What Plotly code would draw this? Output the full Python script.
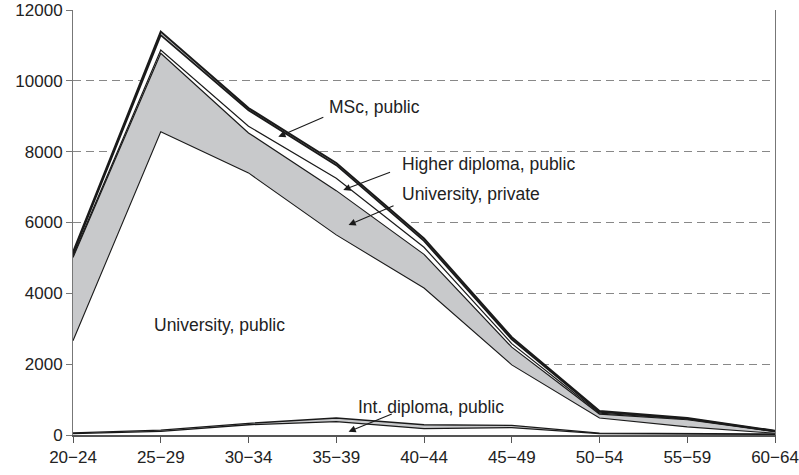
import plotly.graph_objects as go

age_groups = ["20\u221224", "25\u221229", "30\u221234", "35\u221239", "40\u221244",
              "45\u221249", "50\u221254", "55\u221259", "60\u221264"]

int_dip_public = [40, 100, 290, 380, 180, 210, 40, 30, 20]
int_dip_private = [20, 40, 40, 100, 110, 60, 15, 10, 10]
univ_public = [2600, 8420, 7070, 5170, 3860, 1710, 425, 190, 20]
univ_private = [2350, 2220, 1130, 1250, 950, 500, 110, 200, 45]
higher_dip_public = [40, 90, 190, 350, 200, 100, 30, 15, 5]
msc_public = [60, 420, 450, 370, 180, 120, 30, 15, 10]
msc_private = [50, 100, 60, 60, 70, 60, 30, 20, 10]

y_ticks = [0, 2000, 4000, 6000, 8000, 10000, 12000]
y_tick_labels = ["0", "2000", "4000", "6000", "8000", "10000", "12000"]

WHITE = "#ffffff"
GREY = "#c8c9cb"
LINE = "#1a1a1a"

layers = [
    ("Int. diploma, public", int_dip_public, WHITE, 1.3),
    ("Int. diploma, private", int_dip_private, GREY, 1.3),
    ("University, public", univ_public, WHITE, 1.1),
    ("University, private", univ_private, GREY, 1.2),
    ("Higher diploma, public", higher_dip_public, WHITE, 1.2),
    ("MSc, public", msc_public, WHITE, 1.8),
    ("MSc, private", msc_private, GREY, 2.0),
]

fig = go.Figure()
for name, vals, fc, lw in layers:
    fig.add_trace(go.Scatter(
        x=age_groups, y=vals, name=name, mode="lines",
        stackgroup="one", fillcolor=fc,
        line=dict(color=LINE, width=lw),
    ))

FONT = "Liberation Sans, Arial, sans-serif"

labels = [
    ("MSc, public", 2.895, 9260),
    ("Higher diploma, public", 3.73, 7650),
    ("University, private", 3.73, 6800),
    ("University, public", 0.90, 3105),
    ("Int. diploma, public", 3.225, 790),
]
for txt, x, y in labels:
    fig.add_annotation(x=x, y=y, xref="x", yref="y", text=txt, showarrow=False,
                       xanchor="left", yanchor="middle",
                       font=dict(family=FONT, size=17.5, color="#222222"))

arrows = [
    (2.34, 8420, 2.87, 8990),
    (3.08, 6917, 3.63, 7434),
    (3.14, 5929, 3.67, 6493),
    (3.14, 93, 3.65, 613),
]
for x, y, ax, ay in arrows:
    fig.add_annotation(x=x, y=y, xref="x", yref="y", ax=ax, ay=ay,
                       axref="x", ayref="y", text="", showarrow=True,
                       arrowhead=2, arrowsize=1.3, arrowwidth=1.1,
                       arrowcolor="#1a1a1a")

fig.update_layout(
    width=799, height=475,
    margin=dict(l=73, r=24, t=10, b=40),
    plot_bgcolor="white", paper_bgcolor="white",
    showlegend=False,
    font=dict(family=FONT, size=17.5, color="#222222"),
)
fig.update_xaxes(
    type="category", range=[0, 8], automargin=False,
    showline=True, linecolor="#555555", linewidth=1.5,
    ticks="outside", ticklen=6, tickcolor="#555555",
    showgrid=False, zeroline=False,
    tickfont=dict(family=FONT, size=17, color="#222222"),
)
fig.update_yaxes(
    range=[0, 12000], tickvals=y_ticks, ticktext=y_tick_labels, automargin=False,
    showline=True, linecolor="#777777", linewidth=1, mirror=True,
    ticks="outside", ticklen=6, tickcolor="#777777",
    showgrid=True, gridcolor="#888888", gridwidth=1, griddash="8px,5px",
    zeroline=False,
    tickfont=dict(family=FONT, size=17, color="#222222"),
)

fig.write_html("out.html", config={"displayModeBar": False},
               post_script="document.body.style.margin='0';")
